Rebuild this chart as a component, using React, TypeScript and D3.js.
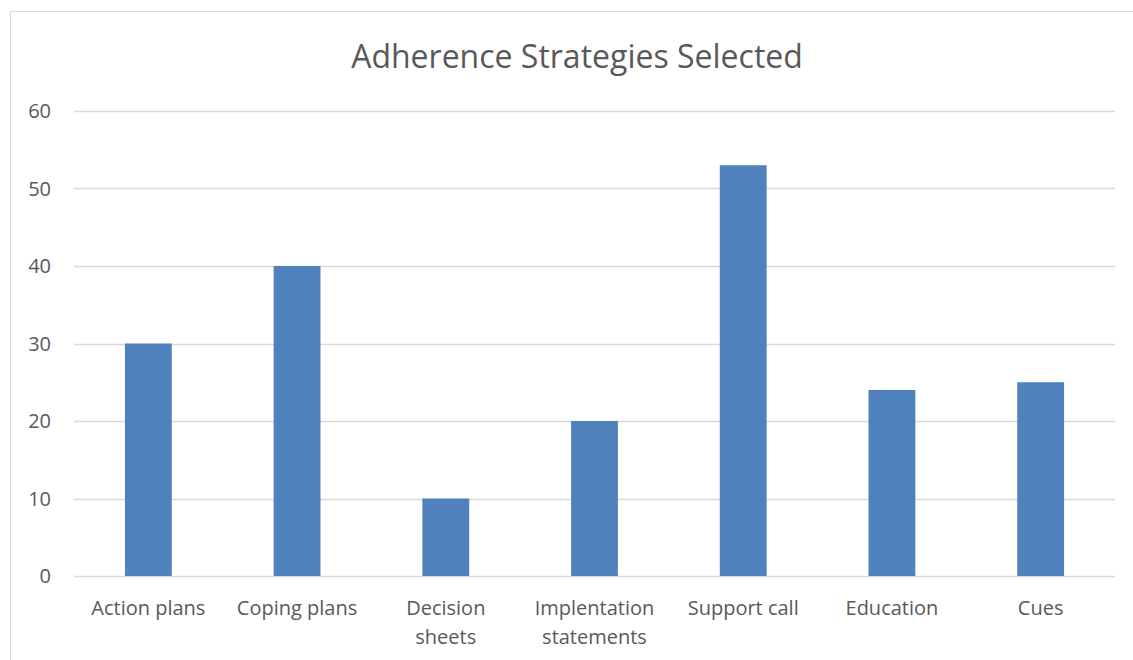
import React, { useEffect, useRef } from "react";
import * as d3 from "d3";

const categories = [
  "Action plans",
  "Coping plans",
  "Decision sheets",
  "Implentation statements",
  "Support call",
  "Education",
  "Cues",
];
const selected = [30, 40, 10, 20, 53, 24, 25];
const yTicks = [0, 10, 20, 30, 40, 50, 60];

// wrapped labels, as in the original
const labelLines: Record<string, string[]> = {
  "Decision sheets": ["Decision", "sheets"],
  "Implentation statements": ["Implentation", "statements"],
};

const App = () => {
  const svgRef = useRef<SVGSVGElement>(null);

  useEffect(() => {
    const width = 1133;
    const height = 660;
    const margin = { top: 111, right: 18, bottom: 84, left: 74 };
    const font = "'Open Sans', 'Liberation Sans', sans-serif";
    const textColor = "#595959";

    const svg = d3.select(svgRef.current);
    svg.selectAll("*").remove();

    svg
      .append("rect")
      .attr("x", 10.5)
      .attr("y", 11.5)
      .attr("width", width + 20)
      .attr("height", height + 20)
      .attr("fill", "#fff")
      .attr("stroke", "#d9d9d9");

    const x = d3
      .scaleBand()
      .domain(categories)
      .range([margin.left, width - margin.right])
      .paddingInner(0.685)
      .paddingOuter(0.3425);

    const y = d3
      .scaleLinear()
      .domain([0, 60])
      .range([height - margin.bottom, margin.top]);

    // gridlines
    svg
      .append("g")
      .selectAll("line")
      .data(yTicks)
      .join("line")
      .attr("x1", margin.left)
      .attr("x2", width - margin.right)
      .attr("y1", (d) => Math.round(y(d)) + 0.5)
      .attr("y2", (d) => Math.round(y(d)) + 0.5)
      .attr("stroke", "#d9d9d9")
      .attr("stroke-width", 1.3);

    // y tick labels
    svg
      .append("g")
      .selectAll("text")
      .data(yTicks)
      .join("text")
      .attr("x", 51)
      .attr("y", (d) => y(d))
      .attr("dy", "0.35em")
      .attr("text-anchor", "end")
      .attr("fill", textColor)
      .style("font", `20px ${font}`)
      .text((d) => d);

    // bars
    svg
      .append("g")
      .selectAll("rect")
      .data(selected)
      .join("rect")
      .attr("x", (d, i) => x(categories[i])!)
      .attr("width", x.bandwidth())
      .attr("y", (d) => y(d))
      .attr("height", (d) => y(0) - y(d))
      .attr("fill", "#4f81bd");

    // x labels
    const labels = svg
      .append("g")
      .selectAll("text")
      .data(categories)
      .join("text")
      .attr("x", (d) => x(d)! + x.bandwidth() / 2)
      .attr("y", 615)
      .attr("text-anchor", "middle")
      .attr("fill", textColor)
      .style("font", `20px ${font}`);

    labels
      .selectAll("tspan")
      .data((d) => labelLines[d] || [d])
      .join("tspan")
      .attr("x", function () {
        return (this.parentNode as SVGTextElement).getAttribute("x");
      })
      .attr("dy", (d, i) => (i === 0 ? 0 : 29))
      .text((d) => d);

    // title
    svg
      .append("text")
      .attr("x", 577)
      .attr("y", 68)
      .attr("text-anchor", "middle")
      .attr("fill", textColor)
      .style("font", `32px ${font}`)
      .text("Adherence Strategies Selected");
  }, []);

  return (
    <svg
      ref={svgRef}
      width={1133}
      height={660}
      style={{ position: "fixed", left: 0, top: 0, background: "#fff" }}
    />
  );
};

export default App;
